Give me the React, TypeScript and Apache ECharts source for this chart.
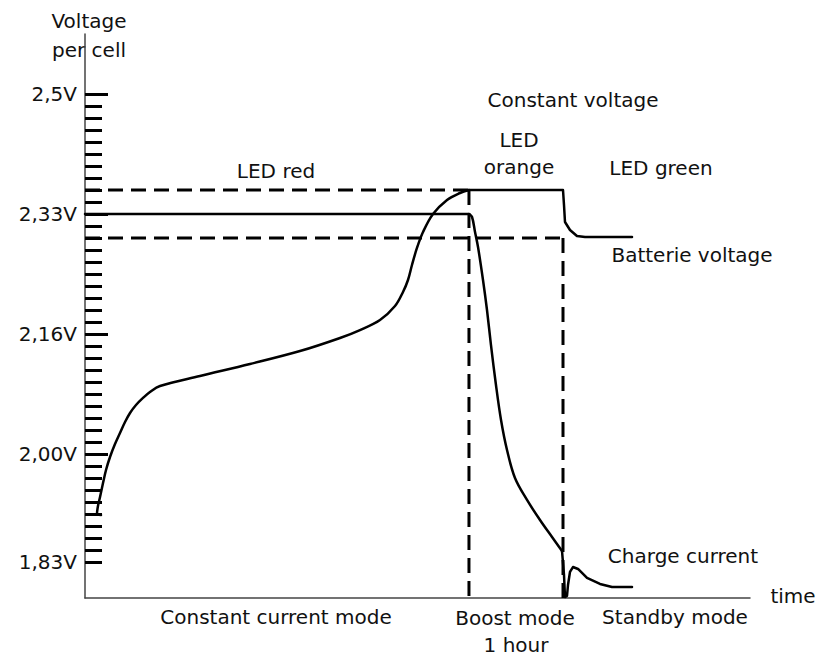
import React, { useEffect, useRef } from "react";
import * as echarts from "echarts";

// ---- Data (time units 0..100 along the axis, voltage in tick units; 1 unit = one minor tick) ----
const yLabelValues = [3, 12, 22, 32, 42];
const yLabels = ["1,83V", "2,00V", "2,16V", "2,33V", "2,5V"];
const yMinorTicks = Array.from({ length: 40 }, (_, i) => i + 3); // 3..42
const yMajorTicks = [12, 22, 32, 42];

const batteryRise: number[][] = [
  [2.41, 6.92], [1.8, 7.0], [1.95, 7.67], [2.26, 8.42], [2.71, 9.58], [3.16, 10.67],
  [3.76, 11.75], [4.51, 12.83], [5.26, 13.75], [6.02, 14.67], [6.77, 15.42],
  [7.67, 16.08], [8.72, 16.67], [9.77, 17.17], [11.28, 17.67], [17.29, 18.5],
  [24.81, 19.5], [32.33, 20.58], [38.35, 21.67], [41.35, 22.33], [44.36, 23.17],
  [46.62, 24.33], [47.82, 25.5], [48.57, 26.5], [49.17, 27.75], [49.92, 29.17],
  [50.83, 30.5], [52.33, 32.0], [54.44, 33.17], [56.39, 33.75], [57.74, 34.0],
];
const batteryHold: number[][] = [
  [57.74, 34.0], [71.88, 34.0], [72.03, 32.75], [72.18, 31.33], [72.93, 30.67],
  [73.98, 30.17], [75.19, 30.08], [82.26, 30.08],
];

const currentLimit: number[][] = [[0, 32], [57.74, 32]];
const currentDrop: number[][] = [
  [57.74, 32], [58.2, 31.75], [58.65, 30.5], [59.1, 29.25], [59.85, 26.5],
  [60.45, 24], [61.05, 21.08], [61.8, 17.75], [62.56, 14.83], [63.46, 12.33],
  [64.66, 10], [66.47, 8.17], [68.42, 6.5], [70.23, 5.08], [71.73, 3.92],
];
const currentStandby: number[][] = [
  [71.73, 3.92], [72.03, 1.92], [72.18, 0.08], [72.48, 0.17], [72.63, 1.08], [72.93, 2.17],
  [73.38, 2.58], [74.14, 2.42], [75.49, 1.67], [77.44, 1.17], [79.25, 0.92],
  [82.26, 0.92],
];

const upperLimit: number[][] = [[0, 34], [57.74, 34]];
const lowerLimit: number[][] = [[0, 30], [71.88, 30]];
const boostStart: number[][] = [[57.74, 34], [57.74, 0]];
const standbyStart: number[][] = [[71.88, 30], [71.88, 0]];

const FONT = '"DejaVu Sans", sans-serif';
const TXT = "#111";

function txt(text: string, x: number, y: number) {
  return {
    type: "text",
    x,
    y,
    silent: true,
    style: {
      text,
      fill: TXT,
      font: `20px ${FONT}`,
      align: "center",
      verticalAlign: "middle",
      textAlign: "center",
      textVerticalAlign: "middle",
    },
  };
}

export default function App() {
  const ref = useRef<HTMLDivElement>(null);
  useEffect(() => {
    if (!ref.current) return;
    const chart = echarts.init(ref.current, null, { renderer: "svg" });
    const solid = (data: number[][], name: string, smooth: number | boolean) => ({
      type: "line",
      name,
      data,
      showSymbol: false,
      symbol: "none",
      smooth,
      z: 3,
      lineStyle: { color: "#000", width: 2.5, cap: "round", join: "round" },
    });
    const dashed = (data: number[][], name: string) => ({
      type: "line",
      name,
      data,
      showSymbol: false,
      symbol: "none",
      z: 2,
      lineStyle: { color: "#000", width: 3, type: [15, 8] },
    });
    chart.setOption({
      animation: false,
      backgroundColor: "#fff",
      grid: { left: 85, right: 76, top: 34, bottom: 61, containLabel: false },
      xAxis: {
        type: "value",
        min: 0,
        max: 100,
        axisLine: { show: true, onZero: false, lineStyle: { color: "#444", width: 1.5 } },
        axisTick: { show: false },
        axisLabel: { show: false },
        splitLine: { show: false },
      },
      yAxis: [
        {
          type: "value",
          min: 0,
          max: 47,
          position: "left",
          axisLine: { show: true, onZero: false, lineStyle: { color: "#444", width: 1.5 } },
          axisTick: {
            show: true,
            inside: true,
            length: 17,
            customValues: yMinorTicks,
            lineStyle: { color: "#000", width: 3 },
          },
          axisLabel: {
            show: true,
            customValues: yLabelValues,
            formatter: (v: number) => {
              const i = yLabelValues.indexOf(Math.round(v));
              return i >= 0 ? yLabels[i] : "";
            },
            margin: 8,
            fontSize: 20,
            fontFamily: FONT,
            color: TXT,
          },
          splitLine: { show: false },
        },
        {
          type: "value",
          min: 0,
          max: 47,
          position: "left",
          offset: 0,
          axisLine: { show: false },
          axisTick: {
            show: true,
            inside: true,
            length: 23,
            customValues: yMajorTicks,
            lineStyle: { color: "#000", width: 3 },
          },
          axisLabel: { show: false },
          splitLine: { show: false },
        },
      ],
      series: [
        dashed(upperLimit, "upper"),
        dashed(lowerLimit, "lower"),
        dashed(boostStart, "boost"),
        dashed(standbyStart, "standby"),
        solid(currentLimit, "Charge current limit", false),
        solid(currentDrop, "Charge current", 0.35),
        solid(currentStandby, "Charge current standby", false),
        solid(batteryRise, "Batterie voltage", 0.35),
        solid(batteryHold, "Batterie voltage hold", false),
      ],
      graphic: [
        txt("Voltage", 89, 21),
        txt("per cell", 89, 50),
        txt("Constant voltage", 573, 100),
        txt("LED", 519, 140),
        txt("orange", 519, 167),
        txt("LED green", 661, 168),
        txt("LED red", 276, 171),
        txt("Batterie voltage", 692, 255),
        txt("Charge current", 683, 556),
        txt("time", 793, 596),
        txt("Constant current mode", 276, 617),
        txt("Boost mode", 515, 618),
        txt("1 hour", 516, 645),
        txt("Standby mode", 675, 617),
      ],
    });
    return () => chart.dispose();
  }, []);
  return (
    <div
      ref={ref}
      style={{ position: "absolute", left: 0, top: 0, width: 826, height: 659, background: "#fff" }}
    />
  );
}
